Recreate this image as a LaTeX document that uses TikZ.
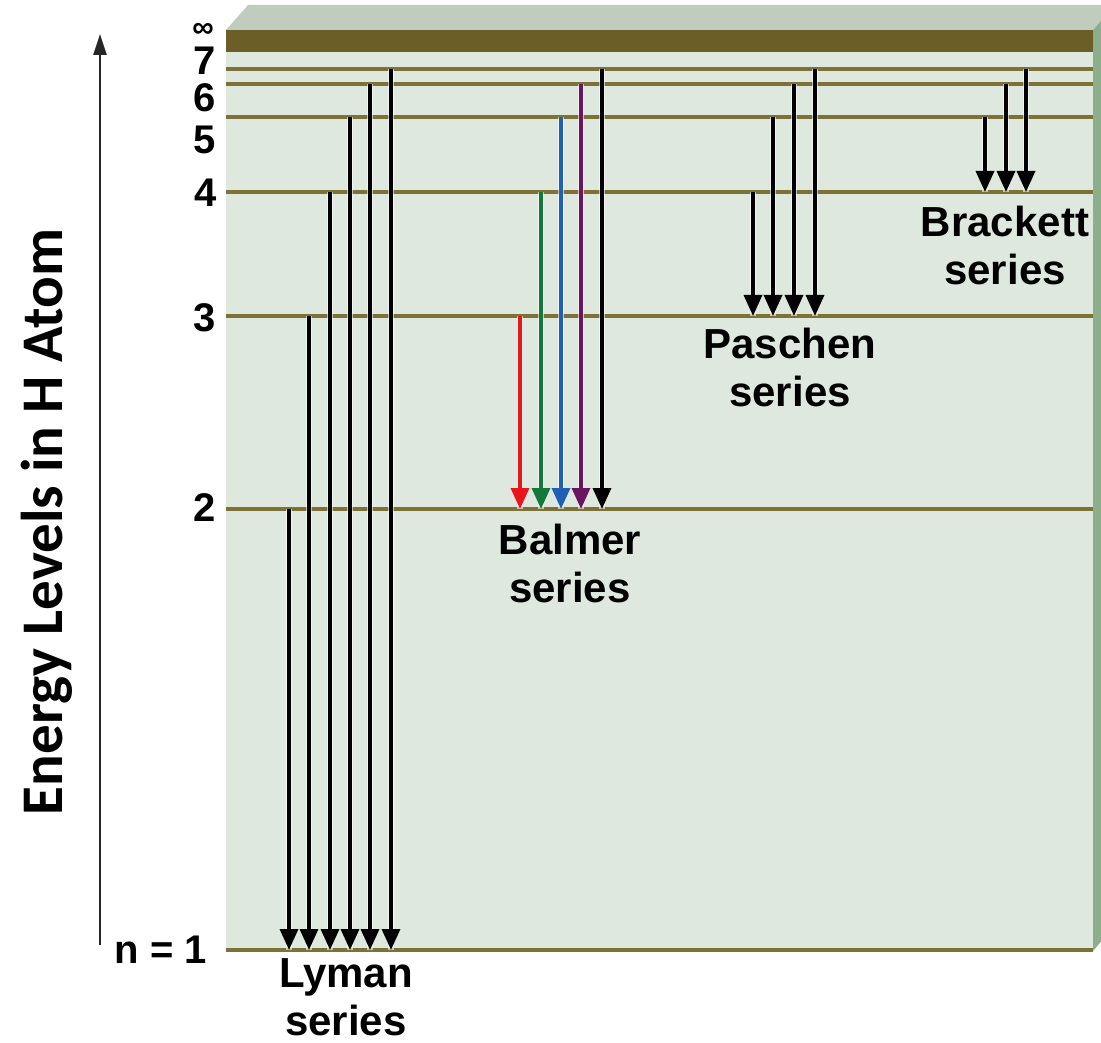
\documentclass[tikz,border=0pt]{standalone}
\usepackage{fontspec}
\setmainfont{Liberation Sans}
\newfontfamily\calibrifont{Carlito}
\usetikzlibrary{arrows.meta}
\definecolor{frontface}{HTML}{DFE8DE}
\definecolor{topface}{HTML}{C0CCBD}
\definecolor{sideface}{HTML}{8DAE8B}
\definecolor{bandcol}{HTML}{6B5F27}
\definecolor{levcol}{HTML}{7D7135}
\definecolor{hred}{HTML}{E8151B}
\definecolor{hgreen}{HTML}{12793A}
\definecolor{hblue}{HTML}{1F5FB5}
\definecolor{hpurple}{HTML}{6B1560}
\tikzset{
  levline/.style={draw=levcol, line width=3.2pt},
  trans/.style={line width=3.4pt, -{Triangle[width=18pt,length=21pt]},
    preaction={draw=white, draw opacity=0.6, line width=6pt, -{}}},
  lvlabel/.style={font=\fontsize{40}{44}\selectfont\bfseries, anchor=east, inner sep=0pt},
  serieslabel/.style={font=\fontsize{42}{48}\selectfont\bfseries, align=center, inner sep=0pt},
}
\begin{document}
\begin{tikzpicture}[x=1pt,y=-1pt]
\useasboundingbox (0,0) rectangle (1101,1043);
% box faces
\fill[topface] (226,30) -- (248,5) -- (1115,5) -- (1093,30) -- cycle;
\fill[sideface] (1093,30) -- (1115,5) -- (1115,925) -- (1093,951) -- cycle;
\fill[frontface] (226,30) rectangle (1093,951);
% level coordinates
\coordinate (ninf) at (226,30);
\coordinate (n7) at (226,69);
\coordinate (n6) at (226,84);
\coordinate (n5) at (226,117);
\coordinate (n4) at (226,192);
\coordinate (n3) at (226,316);
\coordinate (n2) at (226,509);
\coordinate (n1) at (226,950);
\coordinate (rightedge) at (1093,0);
% band and level lines
\fill[bandcol] (ninf) rectangle (1093,52);
\foreach \l in {n7,n6,n5,n4,n3,n2,n1}
  \draw[levline] (\l) -- (\l -| rightedge);
% level labels
\node[lvlabel, font=\fontsize{30}{32}\selectfont\bfseries] (linf) at (214,30) {∞};
\node[lvlabel] (l7) at (216,61) {7};
\node[lvlabel] (l6) at (216,98) {6};
\node[lvlabel] (l5) at (216,140) {5};
\node[lvlabel] (l4) at (217,193) {4};
\node[lvlabel] (l3) at (216,318) {3};
\node[lvlabel] (l2) at (216,508) {2};
\node[lvlabel] (l1) at (207,950) {n = 1};
% Lyman
\foreach \x/\f in {289/n2,309/n3,330/n4,350/n5,370/n6,391/n7}
  \draw[trans] (\x,0 |- \f) -- (\x,0 |- n1);
% Balmer
\foreach \x/\f/\c in {520/n3/hred,541/n4/hgreen,561/n5/hblue,581/n6/hpurple,602/n7/black}
  \draw[trans, draw=\c, fill=\c] (\x,0 |- \f) -- (\x,0 |- n2);
% Paschen
\foreach \x/\f in {753/n4,773/n5,794/n6,815/n7}
  \draw[trans] (\x,0 |- \f) -- (\x,0 |- n3);
% Brackett
\foreach \x/\f in {985/n5,1006/n6,1026/n7}
  \draw[trans] (\x,0 |- \f) -- (\x,0 |- n4);
% series labels
\node[serieslabel] (lyman) at (346,997) {Lyman\\series};
\node[serieslabel] (balmer) at (570,563) {Balmer\\series};
\node[serieslabel] (paschen) at (790,367) {Paschen\\series};
\node[serieslabel] (brackett) at (1005,245) {Brackett\\series};
% energy axis
\coordinate (axbot) at (100,945);
\coordinate (axtop) at (100,34);
\draw[line width=2.4pt, draw=black!85, -{Triangle[width=13pt,length=21pt]}] (axbot) -- (axtop);
\node[font=\calibrifont\fontsize{59}{62}\selectfont\bfseries, rotate=90, inner sep=0pt] (axlabel) at (47,522) {Energy Levels in H Atom};
\end{tikzpicture}
\end{document}
